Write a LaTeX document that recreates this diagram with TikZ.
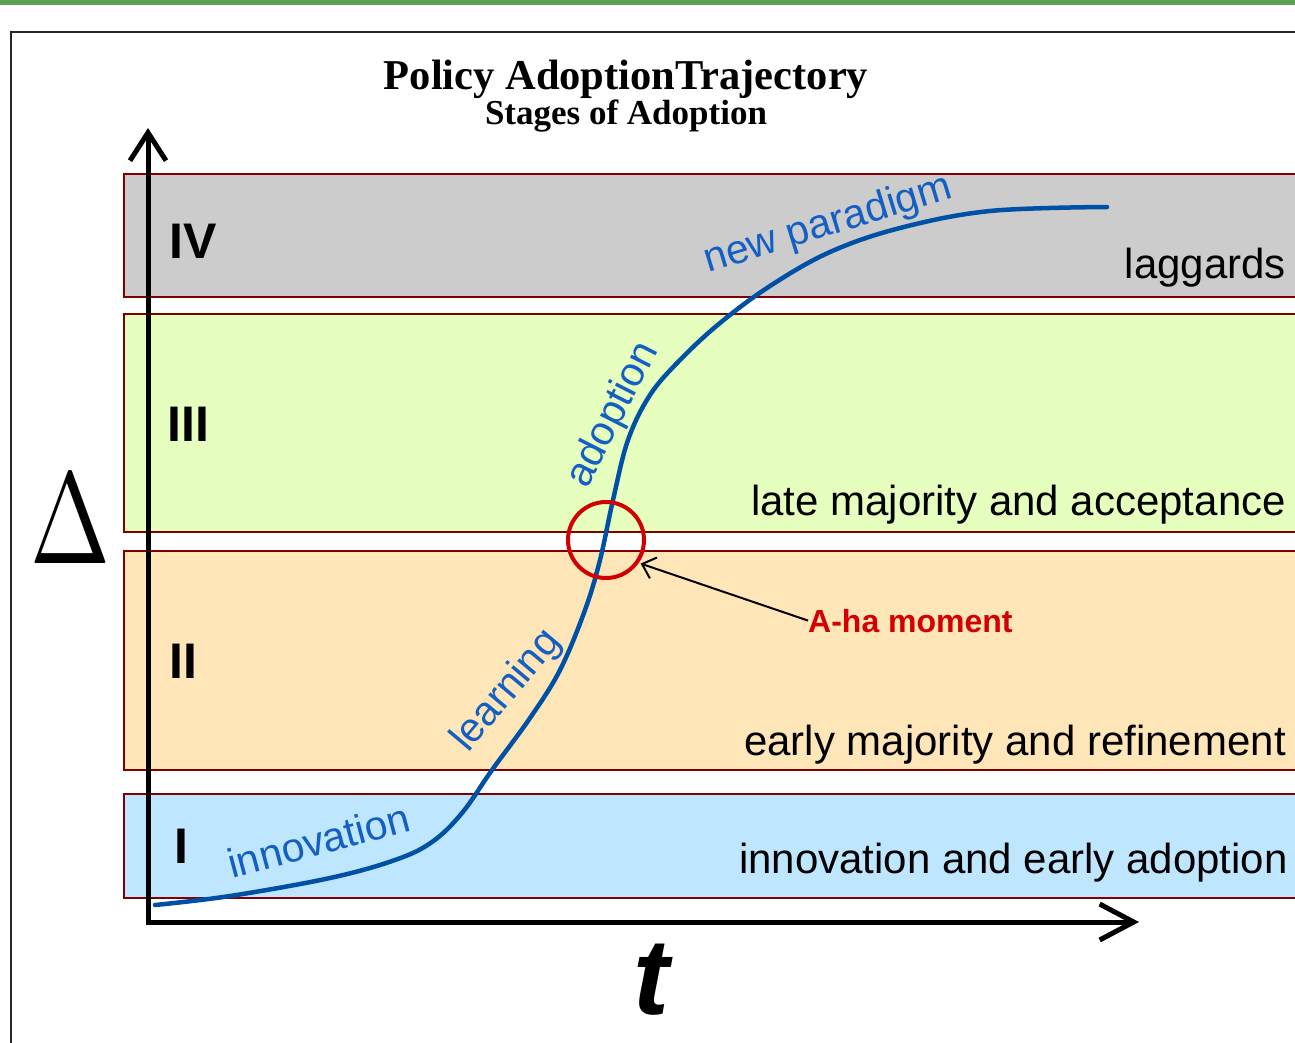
\documentclass[tikz,border=0pt]{standalone}
\usepackage{fontspec}
\setmainfont{Liberation Sans}
\newfontfamily\serifbold{Liberation Serif}
\usetikzlibrary{arrows.meta}

\definecolor{bandedge}{RGB}{128,0,0}
\definecolor{stageIV}{RGB}{204,204,204}
\definecolor{stageIII}{RGB}{230,255,190}
\definecolor{stageII}{RGB}{255,230,185}
\definecolor{stageI}{RGB}{190,230,255}
\definecolor{curveblue}{RGB}{0,80,165}
\definecolor{textblue}{RGB}{20,95,195}
\definecolor{ahared}{RGB}{210,0,0}
\definecolor{topgreen}{RGB}{90,160,80}

\newcommand{\setsize}[1]{\fontsize{#1}{#1}\selectfont}

\begin{document}
\begin{tikzpicture}[x=1pt,y=-1pt,
  band/.style={draw=bandedge,line width=1.2pt},
  numeral/.style={anchor=base west,inner sep=0pt,font=\setsize{50}\bfseries},
  stage/.style={anchor=base east,inner sep=0pt,font=\setsize{42}},
  phase/.style={anchor=base west,inner sep=0pt,text=textblue,font=\setsize{41}},
  axis/.style={line width=5pt,{Straight Barb[length=28pt,width=36pt]}-{Straight Barb[length=34pt,width=36pt]}}]
\useasboundingbox (0,0) rectangle (1295,1042);
\clip (0,0) rectangle (1295,1042);

% top rule and frame
\fill[topgreen] (0,0) rectangle (1295,4.5);
\draw[line width=1.5pt,black!85] (11,1060) |- (1310,32);

% title
\node[anchor=base,inner sep=0pt] (title) at (626,89)
  {\serifbold\setsize{42.5}\bfseries Policy AdoptionTrajectory};
\node[anchor=base,inner sep=0pt] (subtitle) at (626,124)
  {\serifbold\setsize{35}\bfseries Stages of Adoption};

% stage bands
\foreach \ytop/\ybot/\shade in {174/297/stageIV,314/532/stageIII,551/770/stageII,794/898/stageI}
  \draw[band,fill=\shade] (124,\ytop) rectangle (1320,\ybot);

\node[numeral] (IV) at (169,258) {IV};
\node[numeral] (III) at (167,441) {III};
\node[numeral] (II) at (169,678) {II};
\node[numeral] (I) at (174,863) {I};

\node[stage] (laggards) at (1286,278) {laggards};
\node[stage] (late) at (1286,515) {late majority and acceptance};
\node[stage] (early) at (1286,755) {early majority and refinement};
\node[stage] (innov) at (1288,873) {innovation and early adoption};

% axes
\coordinate (origin) at (148,922);
\coordinate (ytop) at (148,128);
\coordinate (xend) at (1139,922);
\draw[axis] (ytop) -- (origin) -- (xend);

\node[anchor=base,inner sep=0pt,xscale=9.6,yscale=13] (delta) at (70,563) {$\Delta$};
\node[anchor=base,inner sep=0pt] (t) at (651,1014) {\setsize{108}\bfseries\itshape t};

% adoption curve
\draw[curveblue,line width=4.5pt,line cap=round] plot[smooth,tension=0.6] coordinates {
  (155,905) (230,896) (330,878) (395,860) (432,842) (462,813) (492,770)
  (530,718) (560,670) (585,610) (600,560) (613,500) (628,440) (650,395)
  (680,360) (720,323) (770,286) (830,252) (900,228) (990,211) (1107,207)};

\node[phase,rotate=15] (innovation) at (232,879) {innovation};
\node[phase,rotate=50] (learning) at (468,754) {learning};
\node[phase,rotate=63] (adoption) at (587,490) {adoption};
\node[phase,rotate=17] (paradigm) at (708,273) {new paradigm};

% tipping point
\node[circle,draw=ahared,line width=4pt,minimum size=76pt,inner sep=0pt] (ring) at (606,540) {};
\node[anchor=base west,inner sep=0pt,text=ahared,font=\setsize{32}\bfseries] (aha) at (808,632) {A-ha moment};
\draw[line width=2pt,-{Straight Barb[length=12pt,width=22pt]},shorten >=2pt] (aha.west) -- (ring.-35);
\end{tikzpicture}
\end{document}
